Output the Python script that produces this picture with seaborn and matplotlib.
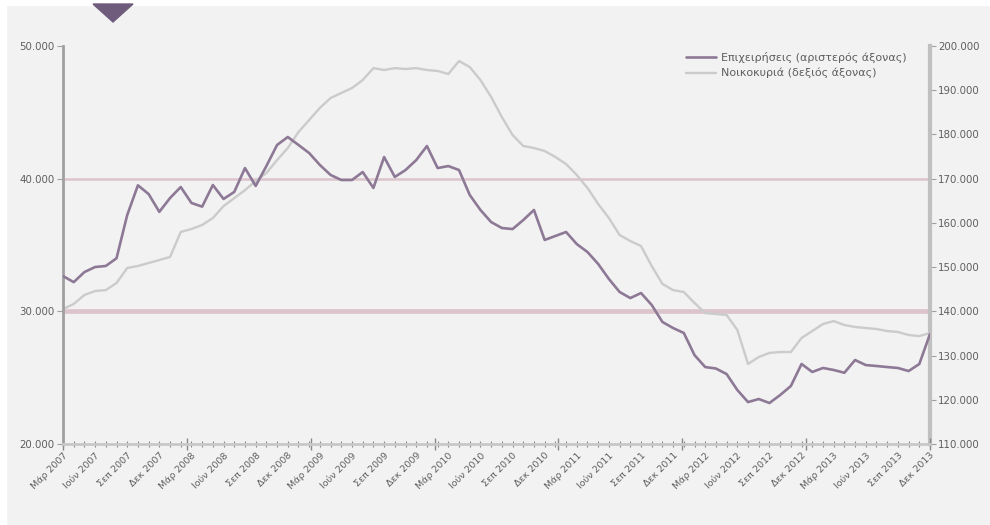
import numpy as np
import pandas as pd
import matplotlib
matplotlib.use("Agg")
import matplotlib.pyplot as plt
import matplotlib.transforms as mtransforms
from matplotlib.patches import Polygon
import seaborn as sns

# Monthly observations, March 2007 - December 2013
start_month = "2007-03"
end_month = "2013-12"

# Businesses, thousands (left axis)
businesses = [
    32.66, 32.20, 32.96, 33.34, 33.42, 34.00, 37.26, 39.50, 38.84, 37.50,
    38.54, 39.37, 38.17, 37.89, 39.52, 38.47, 39.00, 40.80, 39.45, 40.95,
    42.54, 43.14, 42.54, 41.93, 41.03, 40.28, 39.90, 39.90, 40.50, 39.30,
    41.63, 40.13, 40.65, 41.40, 42.46, 40.80, 40.95, 40.65, 38.77, 37.64,
    36.73, 36.28, 36.20, 36.88, 37.64, 35.38, 35.68, 35.98, 35.07, 34.47,
    33.57, 32.44, 31.46, 31.00, 31.38, 30.48, 29.20, 28.74, 28.37, 26.70,
    25.80, 25.69, 25.27, 24.07, 23.16, 23.39, 23.09, 23.69, 24.37, 26.03,
    25.43, 25.73, 25.58, 25.37, 26.33, 25.95, 25.88, 25.80, 25.73, 25.50,
    26.03, 28.29,
]

# Households, thousands (right axis)
households = [
    140.53, 141.66, 143.70, 144.60, 144.80, 146.40, 149.80, 150.25, 150.93, 151.60,
    152.30, 157.94, 158.62, 159.52, 161.10, 163.80, 165.60, 167.40, 169.47, 171.28,
    174.20, 176.93, 180.55, 183.27, 186.00, 188.24, 189.37, 190.50, 192.30, 195.00,
    194.57, 195.00, 194.80, 195.00, 194.57, 194.35, 193.67, 196.60, 195.25, 192.30,
    188.47, 183.94, 179.87, 177.39, 176.93, 176.26, 174.90, 173.30, 170.83, 167.90,
    164.27, 161.10, 157.26, 155.90, 154.77, 150.25, 146.20, 144.80, 144.37, 141.90,
    139.60, 139.40, 139.17, 135.78, 128.10, 129.67, 130.60, 130.80, 130.80, 133.97,
    135.55, 137.13, 137.80, 136.90, 136.46, 136.23, 136.00, 135.55, 135.33, 134.65,
    134.40, 135.10,
]

left_ticks = [20000, 30000, 40000, 50000]
right_ticks = [110000, 120000, 130000, 140000, 150000, 160000, 170000, 180000, 190000, 200000]
month_names = {3: "Μάρ", 6: "Ιούν", 9: "Σεπ", 12: "Δεκ"}

label_left = "Επιχειρήσεις (αριστερός άξονας)"
label_right = "Νοικοκυριά (δεξιός άξονας)"

dates = pd.period_range(start_month, end_month, freq="M")
df = pd.DataFrame({
    "idx": np.arange(len(dates)),
    "businesses": np.array(businesses) * 1000,
    "households": np.array(households) * 1000,
})

BG = "#f2f2f2"
PURPLE = "#8d7995"
LIGHT = "#cbcbcb"
GRID = "#dcc4cc"
AXIS = "#a0a0a0"
TXT = "#5f5f5f"

sns.set_theme(style="white")
plt.rcParams["font.family"] = ["DejaVu Sans"]

fig = plt.figure(figsize=(9.9, 5.25), dpi=100, facecolor=BG)
ax = fig.add_axes([63 / 990, 1 - 444 / 525, (930 - 63) / 990, (444 - 46) / 525])
ax2 = ax.twinx()

sns.lineplot(data=df, x="idx", y="households", ax=ax2, color=LIGHT, lw=1.7,
             label=label_right, legend=False, zorder=3)
sns.lineplot(data=df, x="idx", y="businesses", ax=ax, color=PURPLE, lw=1.9,
             label=label_left, legend=False, zorder=4)
ax.set_zorder(ax2.get_zorder() + 1)
ax.patch.set_visible(False)
ax2.patch.set_visible(True)
ax2.patch.set_facecolor(BG)

# reference lines, drawn beneath both series
ax2.axhline(140000, color=GRID, lw=3.4, zorder=1)
ax2.axhline(170000, color=GRID, lw=1.8, zorder=1)

n = len(dates)
ax.set_xlim(0, n - 1)
ax.set_ylim(20000, 50000)
ax2.set_ylim(110000, 200000)

def fmt(v):
    return f"{int(v):,}".replace(",", ".")

ax.set_yticks(left_ticks)
ax.set_yticklabels([fmt(v) for v in left_ticks])
ax2.set_yticks(right_ticks)
ax2.set_yticklabels([fmt(v) for v in right_ticks])

label_pos = [i for i, d in enumerate(dates) if d.month in month_names]
ax.set_xticks(label_pos)
ax.set_xticklabels([f"{month_names[dates[i].month]} {dates[i].year}" for i in label_pos],
                   rotation=45, ha="right", rotation_mode="anchor")
ax.set_xticks(np.arange(n), minor=True)
ax.set_xlabel("")
ax.set_ylabel("")
ax2.set_ylabel("")

# shift the slanted labels so each one ends just right of its tick
shift = mtransforms.ScaledTranslation(0.10, 0, fig.dpi_scale_trans)
for lbl in ax.get_xticklabels():
    lbl.set_transform(lbl.get_transform() + shift)

for a in (ax, ax2):
    for s in a.spines.values():
        s.set_visible(False)
ax.spines["left"].set_visible(True)
ax.spines["left"].set_color(AXIS)
ax.spines["left"].set_linewidth(2.0)
ax.spines["bottom"].set_visible(True)
ax.spines["bottom"].set_color("#c8c8c8")
ax.spines["bottom"].set_linewidth(2.0)
ax2.spines["right"].set_visible(True)
ax2.spines["right"].set_color("#c0c0c0")
ax2.spines["right"].set_linewidth(3.0)

ax.tick_params(axis="y", which="major", length=4, width=0.8, color=AXIS,
               labelsize=7.4, labelcolor=TXT, pad=2, left=True)
ax2.tick_params(axis="y", which="major", length=4, width=0.8, color=AXIS,
                labelsize=7.4, labelcolor=TXT, pad=2, right=True)
ax.tick_params(axis="x", which="major", length=4, width=0.8, color="#888888",
               direction="inout", labelsize=6.8, labelcolor=TXT, pad=3, bottom=True)
ax.tick_params(axis="x", which="minor", length=4, width=0.8, color="#888888",
               direction="inout", bottom=True)

# yearly separators along the category axis
sec = ax.secondary_xaxis("bottom")
sec.set_xticks(np.linspace(0, n - 1, 8))
sec.set_xticklabels([])
sec.tick_params(length=9, width=1.0, color="#888888", direction="inout")
sec.spines["bottom"].set_visible(False)

h1 = [l for l in ax.get_lines() if l.get_label() == label_left]
h2 = [l for l in ax2.get_lines() if l.get_label() == label_right]
leg = ax.legend(h1 + h2, [label_left, label_right], loc="upper left",
                bbox_to_anchor=(0.719, 0.985), frameon=False, fontsize=8.0,
                handlelength=2.7, handletextpad=0.4, labelspacing=0.45,
                borderpad=0.0, borderaxespad=0.0)
for t in leg.get_texts():
    t.set_color(TXT)

# page frame strips and marker
fig.patches.append(plt.Rectangle((0, 1 - 5 / 525), 1, 5 / 525, transform=fig.transFigure,
                                 color="white", zorder=0))
fig.patches.append(plt.Rectangle((0, 0), 6 / 990, 1, transform=fig.transFigure,
                                 color="white", zorder=0))
fig.patches.append(Polygon([(93 / 990, 1 - 4 / 525), (133 / 990, 1 - 4 / 525),
                            (113 / 990, 1 - 22 / 525)], closed=True,
                           transform=fig.transFigure, color="#6f5c7d", zorder=1))

fig.savefig("out.png", dpi=100, facecolor=BG)
